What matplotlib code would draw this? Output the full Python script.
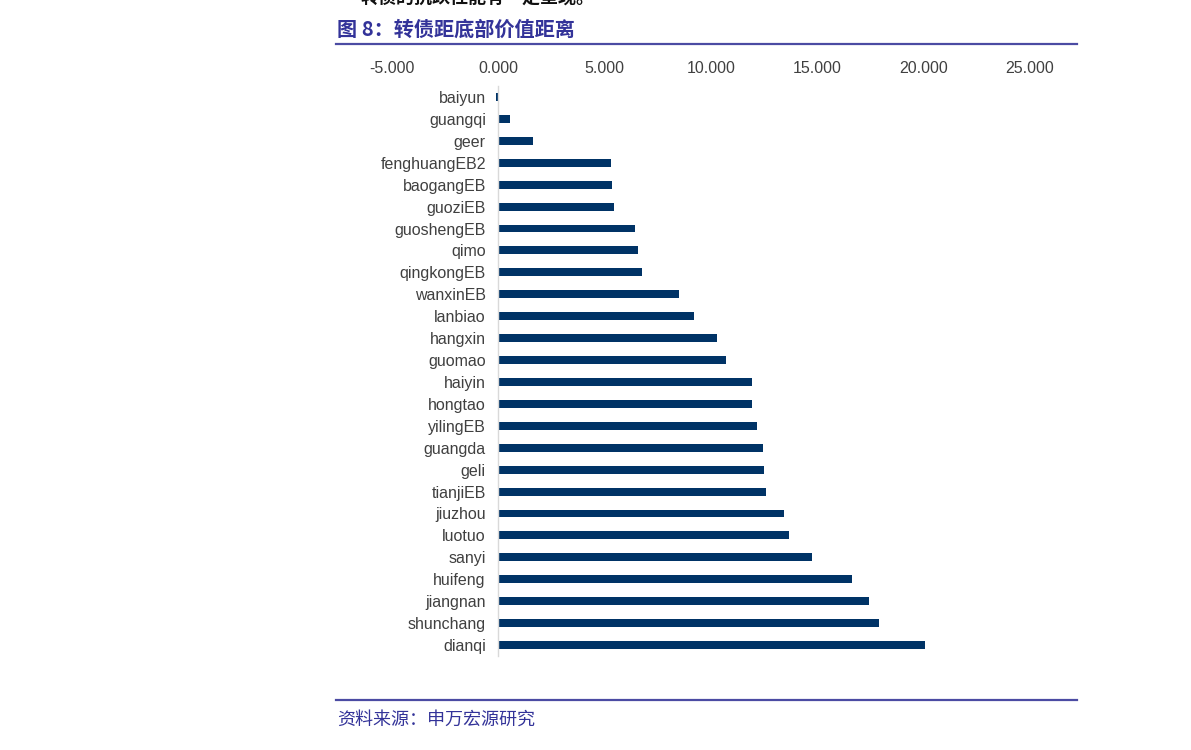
import matplotlib
matplotlib.use("Agg")
import matplotlib.pyplot as plt
from matplotlib.lines import Line2D

plt.rcParams["font.family"] = ["Liberation Sans", "Noto Sans CJK SC", "DejaVu Sans"]

# data
names = ["baiyun", "guangqi", "geer", "fenghuangEB2", "baogangEB", "guoziEB",
         "guoshengEB", "qimo", "qingkongEB", "wanxinEB", "lanbiao", "hangxin",
         "guomao", "haiyin", "hongtao", "yilingEB", "guangda", "geli",
         "tianjiEB", "jiuzhou", "luotuo", "sanyi", "huifeng", "jiangnan",
         "shunchang", "dianqi"]
values = [-0.12, 0.54, 1.65, 5.32, 5.36, 5.46,
          6.42, 6.59, 6.75, 8.50, 9.22, 10.26,
          10.70, 11.91, 11.95, 12.16, 12.46, 12.47,
          12.60, 13.44, 13.69, 14.75, 16.63, 17.41,
          17.90, 20.08]
xticks = [-5, 0, 5, 10, 15, 20, 25]

TITLE = "图 8：转债距底部价值距离"
SOURCE = "资料来源：申万宏源研究"
HEAD = "转债的抗跌性能有一定呈现。"

BAR = "#003366"
INK = "#404040"
RULE = "#4b4ba3"
TITLE_C = "#333399"

W, H = 1191, 750
fig = plt.figure(figsize=(W / 100, H / 100), dpi=100, facecolor="white")

# axes placed in pixel terms: x -5..25 spans 392..1030 px
n = len(names)
step = (645 - 97) / (n - 1)
top_px = 97 - step / 2
bot_px = 645 + step / 2
ax = fig.add_axes([392 / W, 1 - bot_px / H, (1030 - 392) / W, (bot_px - top_px) / H])

ypos = list(range(n))
ax.barh(ypos, values, height=0.36, color=BAR, edgecolor="none")
ax.set_xlim(-5, 25)
ax.set_ylim(n - 0.5, -0.5)

ax.set_xticks(xticks)
ax.set_xticklabels([f"{v:.3f}" for v in xticks])
ax.xaxis.tick_top()
ax.tick_params(axis="x", length=0, pad=7, labelsize=11.5, labelcolor=INK)

ax.set_yticks(ypos)
ax.set_yticklabels(names)
ax.tick_params(axis="y", length=0, pad=9, labelsize=11.5, labelcolor=INK)

for s in ["top", "right", "bottom"]:
    ax.spines[s].set_visible(False)
ax.spines["left"].set_position(("data", 0))
ax.spines["left"].set_color("#d9d9d9")
ax.spines["left"].set_linewidth(1.0)

# header text (cut by the page edge, as in the source), rules, title, source
fig.text(360 / W, 1 - (-3) / H, HEAD, fontsize=13, color="#111111",
         weight="bold", ha="left", va="center",
         family=["Noto Sans CJK SC", "DejaVu Sans"])
fig.text(337 / W, 1 - 29 / H, TITLE, fontsize=14.5, color=TITLE_C,
         weight="bold", ha="left", va="center",
         family=["Noto Sans CJK SC", "DejaVu Sans"])
fig.add_artist(Line2D([336 / W, 1077 / W], [1 - 43.5 / H] * 2,
                      color=RULE, linewidth=1.6, transform=fig.transFigure))
fig.add_artist(Line2D([336 / W, 1077 / W], [1 - 700 / H] * 2,
                      color=RULE, linewidth=1.6, transform=fig.transFigure))
fig.text(337 / W, 1 - 720 / H, SOURCE, fontsize=13, color=TITLE_C,
         weight="light", ha="left", va="center",
         family=["Noto Sans CJK SC", "DejaVu Sans"])

fig.savefig("out.png", dpi=100, facecolor="white")
